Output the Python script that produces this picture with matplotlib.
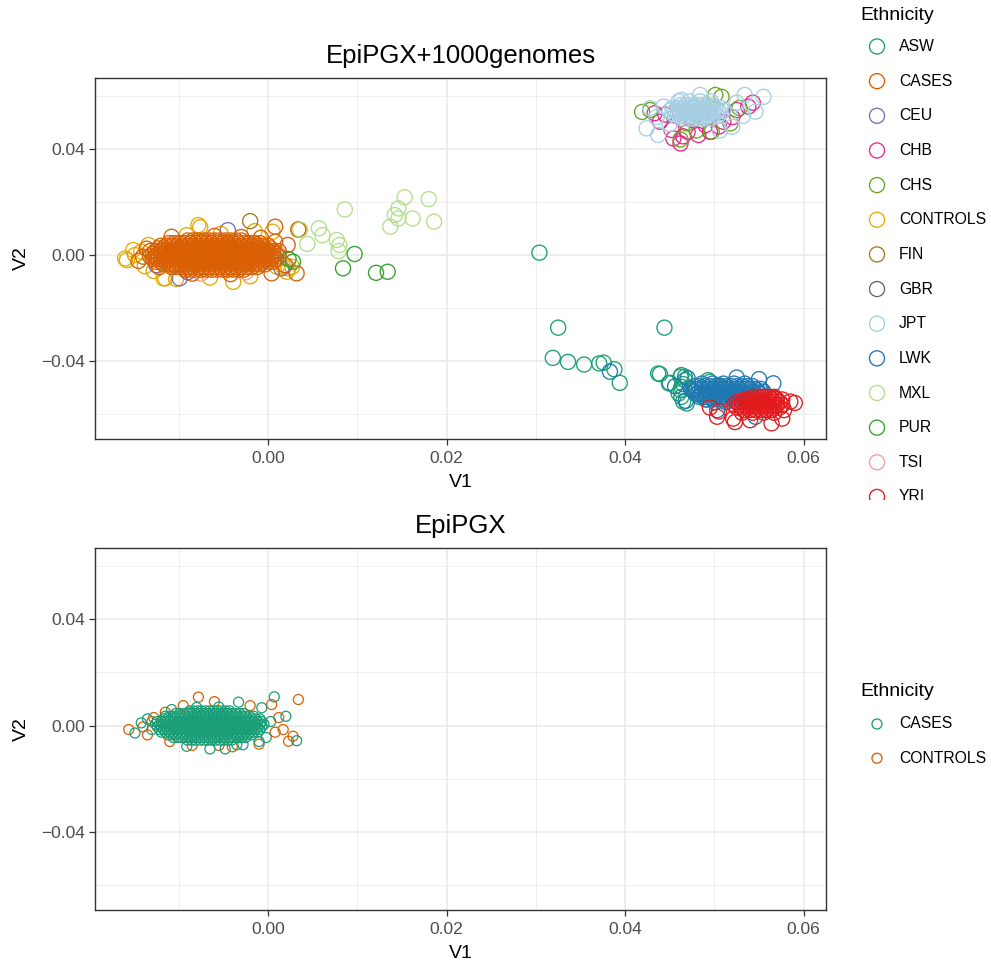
import matplotlib
matplotlib.use("Agg")
import matplotlib.pyplot as plt

plt.rcParams["font.family"] = ["Liberation Sans", "DejaVu Sans"]

SCALE = 1e-3  # all PC coordinates below are in units of 1e-3

# ---------------- EpiPGX + 1000 genomes (PC1 = V1, PC2 = V2) ----------------
# dense clouds are listed row by row as (V2, [V1, ...])
TOP_CASES_ROWS = [
    (5.5, [-9.0, -8.4, -7.8, -7.2, -6.6, -6.0, -5.4, -4.8, -4.2, -3.6, -3.0]),
    (4.5, [-11.1, -10.5, -9.9, -9.3, -8.7, -8.1, -7.5, -6.9, -6.3, -5.7, -5.1, -4.5,
           -3.9, -3.3, -2.7, -2.1, -1.5, -0.9]),
    (3.5, [-12.0, -11.4, -10.8, -10.2, -9.6, -9.0, -8.4, -7.8, -7.2, -6.6, -6.0, -5.4,
           -4.8, -4.2, -3.6, -3.0, -2.4, -1.8, -1.2, -0.6, 0.0]),
    (2.5, [-12.3, -11.7, -11.1, -10.5, -9.9, -9.3, -8.7, -8.1, -7.5, -6.9, -6.3, -5.7,
           -5.1, -4.5, -3.9, -3.3, -2.7, -2.1, -1.5, -0.9, -0.3, 0.3]),
    (1.5, [-13.2, -12.6, -12.0, -11.4, -10.8, -10.2, -9.6, -9.0, -8.4, -7.8, -7.2, -6.6,
           -6.0, -5.4, -4.8, -4.2, -3.6, -3.0, -2.4, -1.8, -1.2, -0.6, 0.0, 0.6, 1.2]),
    (0.5, [-12.9, -12.3, -11.7, -11.1, -10.5, -9.9, -9.3, -8.7, -8.1, -7.5, -6.9, -6.3,
           -5.7, -5.1, -4.5, -3.9, -3.3, -2.7, -2.1, -1.5, -0.9, -0.3, 0.3, 0.9]),
    (-0.5, [-13.2, -12.6, -12.0, -11.4, -10.8, -10.2, -9.6, -9.0, -8.4, -7.8, -7.2, -6.6,
            -6.0, -5.4, -4.8, -4.2, -3.6, -3.0, -2.4, -1.8, -1.2, -0.6, 0.0, 0.6, 1.2]),
    (-1.5, [-12.9, -12.3, -11.7, -11.1, -10.5, -9.9, -9.3, -8.7, -8.1, -7.5, -6.9, -6.3,
            -5.7, -5.1, -4.5, -3.9, -3.3, -2.7, -2.1, -1.5, -0.9, -0.3, 0.3, 0.9]),
    (-2.5, [-12.6, -12.0, -11.4, -10.8, -10.2, -9.6, -9.0, -8.4, -7.8, -7.2, -6.6, -6.0,
            -5.4, -4.8, -4.2, -3.6, -3.0, -2.4, -1.8, -1.2, -0.6, 0.0, 0.6]),
    (-3.5, [-11.7, -11.1, -10.5, -9.9, -9.3, -8.7, -8.1, -7.5, -6.9, -6.3, -5.7, -5.1,
            -4.5, -3.9, -3.3, -2.7, -2.1, -1.5, -0.9, -0.3]),
    (-4.5, [-10.8, -10.2, -9.6, -9.0, -8.4, -7.8, -7.2, -6.6, -6.0, -5.4, -4.8, -4.2,
            -3.6, -3.0, -2.4, -1.8, -1.2]),
    (-5.5, [-9.3, -8.7, -8.1, -7.5, -6.9, -6.3, -5.7, -5.1, -4.5, -3.9, -3.3, -2.7]),
]
TOP_CASES_V1 = [-14.5, -14.0, -10.8, 0.8, 2.2, 3.2, 0.4, 0.8, 1.9, -13.6, -12.2,
                -6.0, -3.0, 3.4, -8.5, -4.2, -0.8]
TOP_CASES_V2 = [-2.2, -0.6, 6.9, 10.7, 3.8, -6.9, -6.9, 5.0, -3.8, 2.4, -4.6,
                7.2, 6.8, 9.7, -7.0, -7.2, 6.5]

TOP_CONTROLS_V1 = [-15.8, -14.9, -14.2, -11.7, -7.8, -9.1, -13.4, -11.5, -3.9, -16.0,
                   -15.1, 1.0, 2.7, 2.1, 0.5, 1.7, 2.3, 3.4, -7.6, -12.8, -10.3,
                   -6.5, -2.0, -5.3, -1.5, -13.8, -8.0, -5.0]
TOP_CONTROLS_V2 = [-1.9, 0.0, 1.3, -8.8, 11.3, 7.5, 3.8, -8.8, -10.1, -1.3,
                   1.9, -4.4, -4.4, -6.3, 8.8, -4.4, -5.0, 9.5, 10.5, -6.0, -9.0,
                   -8.5, -8.0, 8.0, 9.0, -4.2, 0.0, 2.0]

TOP_CEU_V1 = [1.5, -12.5, -9.9, -4.5, -9.0, -2.5, -6.0]
TOP_CEU_V2 = [-5.0, -3.8, -8.8, 9.4, -6.5, -3.0, 1.0]
TOP_FIN_V1 = [-2.0, -5.0, -8.0, 0.5]
TOP_FIN_V2 = [12.8, 0.5, -1.0, 1.5]
TOP_GBR_V1 = [-7.0, -4.0, -10.0, -1.0]
TOP_GBR_V2 = [0.5, -1.0, 2.0, 2.5]
TOP_TSI_V1 = [0.8, -0.3, -7.5, 1.2, -2.5]
TOP_TSI_V2 = [-1.9, -0.6, -7.0, 0.5, -6.5]

TOP_MXL_V1 = [8.6, 5.7, 6.1, 4.4, 7.7, 8.0, 7.9, 15.3, 18.0, 14.6, 14.2, 14.6, 16.2,
              13.7, 18.6, 3.6]
TOP_MXL_V2 = [17.2, 10.1, 7.5, 4.2, 5.7, 3.8, 1.5, 21.8, 21.1, 17.6, 15.1, 13.8, 13.8,
              10.7, 12.6, 9.6]
TOP_PUR_V1 = [8.4, 9.7, 12.1, 13.4, 2.8, 2.3]
TOP_PUR_V2 = [-5.0, 0.4, -6.7, -6.3, -2.5, -1.5]

TOP_ASW_V1 = [30.4, 32.5, 44.4, 31.9, 33.6, 35.4, 37.1, 37.6, 38.8, 39.4, 43.7, 43.9,
              44.9, 46.2, 46.7, 46.3, 46.0, 46.5, 48.4, 50.6, 49.5, 46.5, 45.0, 46.3,
              46.7, 46.2, 46.3, 46.9, 48.2, 50.5, 49.3, 47.5, 49.0, 51.5]
TOP_ASW_V2 = [0.9, -27.4, -27.4, -38.8, -40.3, -41.3, -40.9, -40.6, -43.1, -48.2, -44.7,
              -44.9, -48.4, -45.9, -45.9, -49.7, -52.2, -55.3, -52.8, -49.7, -47.8, -48.7,
              -48.2, -45.3, -47.2, -50.9, -53.5, -56.0, -52.2, -49.1, -47.2, -51.0, -54.5,
              -50.5]

TOP_LWK_ROWS = [
    (-48.5, [48.6, 49.8, 51.0, 52.2, 53.4]),
    (-49.5, [47.7, 48.3, 48.9, 49.5, 50.1, 50.7, 51.3, 51.9, 52.5, 53.1, 53.7, 54.3]),
    (-50.5, [47.4, 48.0, 48.6, 49.2, 49.8, 50.4, 51.0, 51.6, 52.2, 52.8, 53.4, 54.0,
             54.6, 55.2]),
    (-51.5, [47.7, 48.3, 48.9, 49.5, 50.1, 50.7, 51.3, 51.9, 52.5, 53.1, 53.7, 54.3,
             54.9, 55.5]),
    (-52.5, [48.0, 48.6, 49.2, 49.8, 50.4, 51.0, 51.6, 52.2, 52.8, 53.4, 54.0, 54.6,
             55.2]),
    (-53.5, [48.3, 48.9, 49.5, 50.1, 50.7, 51.3, 51.9, 52.5, 53.1, 53.7, 54.3, 54.9]),
    (-54.5, [49.2, 49.8, 50.4, 51.0, 51.6, 52.2, 52.8, 53.4, 54.0]),
    (-55.5, [50.1, 51.3, 52.5, 53.7]),
]
TOP_LWK_V1 = [38.3, 56.6, 54.6, 55.5, 46.8, 45.6, 52.5, 50.3, 47.0, 55.0]
TOP_LWK_V2 = [-44.0, -48.4, -61.0, -55.3, -55.0, -49.5, -46.2, -58.5, -46.5, -46.8]

TOP_YRI_ROWS = [
    (-53.5, [54.3, 54.9, 55.5, 56.1, 56.7]),
    (-54.5, [53.4, 54.0, 54.6, 55.2, 55.8, 56.4, 57.0, 57.6]),
    (-55.5, [52.5, 53.1, 53.7, 54.3, 54.9, 55.5, 56.1, 56.7, 57.3]),
    (-56.5, [52.2, 52.8, 53.4, 54.0, 54.6, 55.2, 55.8, 56.4, 57.0, 57.6]),
    (-57.5, [52.5, 53.1, 53.7, 54.3, 54.9, 55.5, 56.1, 56.7, 57.3]),
    (-58.5, [53.4, 54.0, 54.6, 55.2, 55.8, 56.4]),
    (-59.5, [53.1, 54.3, 55.5, 56.7]),
]
TOP_YRI_V1 = [58.5, 56.7, 50.3, 52.1, 56.4, 57.6, 52.3, 54.0, 59.0, 49.5, 50.5, 57.8]
TOP_YRI_V2 = [-55.3, -54.1, -61.0, -61.7, -63.5, -61.7, -63.0, -62.3, -55.8, -57.5,
              -59.0, -58.5]

TOP_CHB_V1 = [45.4, 46.2, 45.2, 48.2, 49.5, 52.5, 53.8, 43.9, 51.0, 47.0, 50.5, 44.5,
              52.0, 46.5, 54.3, 49.0, 47.5, 43.3]
TOP_CHB_V2 = [44.0, 42.1, 47.2, 45.3, 46.5, 54.7, 56.0, 50.3, 50.3, 46.5, 48.5, 53.0,
              52.0, 44.8, 57.5, 49.0, 51.0, 53.5]
TOP_CHS_V1 = [42.8, 50.1, 50.8, 46.2, 49.7, 51.8, 46.9, 41.9, 52.8, 48.0]
TOP_CHS_V2 = [54.7, 60.4, 59.7, 43.6, 46.5, 49.7, 49.7, 54.0, 55.5, 47.0]

TOP_JPT_ROWS = [
    (58.0, [46.0, 47.2, 48.4, 49.6]),
    (56.5, [46.2, 46.8, 47.4, 48.0, 48.6, 49.2, 49.8]),
    (55.5, [45.3, 45.9, 46.5, 47.1, 47.7, 48.3, 48.9, 49.5, 50.1, 50.7]),
    (54.5, [45.0, 45.6, 46.2, 46.8, 47.4, 48.0, 48.6, 49.2, 49.8, 50.4, 51.0]),
    (53.5, [45.3, 45.9, 46.5, 47.1, 47.7, 48.3, 48.9, 49.5, 50.1, 50.7]),
    (52.5, [45.6, 46.2, 46.8, 47.4, 48.0, 48.6, 49.2, 49.8, 50.4]),
    (51.5, [46.5, 47.1, 47.7, 48.3, 48.9, 49.5]),
]
TOP_JPT_V1 = [42.4, 43.7, 53.4, 55.5, 54.6, 52.0, 42.8, 44.3, 48.4, 46.3, 52.5, 43.5,
              50.6, 53.2, 45.0]
TOP_JPT_V2 = [47.8, 45.3, 60.4, 59.7, 54.1, 48.4, 55.4, 56.0, 60.4, 58.5, 57.5, 52.0,
              47.0, 52.5, 49.5]

# ---------------- EpiPGX only ----------------
BOT_CASES_ROWS = [
    (5.5, [-8.8, -8.35, -7.9, -7.45, -7.0, -6.55, -6.1, -5.65, -5.2, -4.75, -4.3]),
    (4.5, [-10.35, -9.9, -9.45, -9.0, -8.55, -8.1, -7.65, -7.2, -6.75, -6.3, -5.85,
           -5.4, -4.95, -4.5, -4.05, -3.6, -3.15, -2.7]),
    (3.5, [-11.5, -11.05, -10.6, -10.15, -9.7, -9.25, -8.8, -8.35, -7.9, -7.45, -7.0,
           -6.55, -6.1, -5.65, -5.2, -4.75, -4.3, -3.85, -3.4, -2.95, -2.5, -2.05, -1.6]),
    (2.5, [-11.7, -11.25, -10.8, -10.35, -9.9, -9.45, -9.0, -8.55, -8.1, -7.65, -7.2,
           -6.75, -6.3, -5.85, -5.4, -4.95, -4.5, -4.05, -3.6, -3.15, -2.7, -2.25, -1.8,
           -1.35, -0.9]),
    (1.5, [-12.4, -11.95, -11.5, -11.05, -10.6, -10.15, -9.7, -9.25, -8.8, -8.35, -7.9,
           -7.45, -7.0, -6.55, -6.1, -5.65, -5.2, -4.75, -4.3, -3.85, -3.4, -2.95, -2.5,
           -2.05, -1.6, -1.15, -0.7]),
    (0.5, [-12.6, -12.15, -11.7, -11.25, -10.8, -10.35, -9.9, -9.45, -9.0, -8.55, -8.1,
           -7.65, -7.2, -6.75, -6.3, -5.85, -5.4, -4.95, -4.5, -4.05, -3.6, -3.15, -2.7,
           -2.25, -1.8, -1.35, -0.9, -0.45]),
    (-0.5, [-12.4, -11.95, -11.5, -11.05, -10.6, -10.15, -9.7, -9.25, -8.8, -8.35, -7.9,
            -7.45, -7.0, -6.55, -6.1, -5.65, -5.2, -4.75, -4.3, -3.85, -3.4, -2.95, -2.5,
            -2.05, -1.6, -1.15, -0.7]),
    (-1.5, [-12.15, -11.7, -11.25, -10.8, -10.35, -9.9, -9.45, -9.0, -8.55, -8.1, -7.65,
            -7.2, -6.75, -6.3, -5.85, -5.4, -4.95, -4.5, -4.05, -3.6, -3.15, -2.7, -2.25,
            -1.8, -1.35, -0.9]),
    (-2.5, [-11.95, -11.5, -11.05, -10.6, -10.15, -9.7, -9.25, -8.8, -8.35, -7.9, -7.45,
            -7.0, -6.55, -6.1, -5.65, -5.2, -4.75, -4.3, -3.85, -3.4, -2.95, -2.5, -2.05,
            -1.6, -1.15]),
    (-3.5, [-11.25, -10.8, -10.35, -9.9, -9.45, -9.0, -8.55, -8.1, -7.65, -7.2, -6.75,
            -6.3, -5.85, -5.4, -4.95, -4.5, -4.05, -3.6, -3.15, -2.7, -2.25, -1.8]),
    (-4.5, [-10.6, -10.15, -9.7, -9.25, -8.8, -8.35, -7.9, -7.45, -7.0, -6.55, -6.1,
            -5.65, -5.2, -4.75, -4.3, -3.85, -3.4, -2.95, -2.5]),
    (-5.5, [-9.0, -8.55, -8.1, -7.65, -7.2, -6.75, -6.3, -5.85, -5.4, -4.95, -4.5, -4.05]),
]
BOT_CASES_V1 = [0.7, 2.0, 3.2, -14.9, -14.2, -0.7, -3.3, -6.5, -4.8, -3.5, -2.8, -9.1,
                -10.8, -13.5, -13.0, -0.2, 0.3, -1.0, -8.0, -5.5]
BOT_CASES_V2 = [10.8, 3.5, -5.7, -2.8, 1.0, 6.7, 8.8, -8.8, -8.8, -7.2, -7.2, -7.8,
                6.0, 2.5, -1.5, -4.5, 1.5, -6.0, 6.8, 7.0]
BOT_CONTROLS_V1 = [-15.6, -7.8, 3.4, 2.3, 1.7, 0.4, 2.8, -14.0, -13.5, -12.8, -11.0,
                   -9.5, -8.5, -6.0, -4.0, -2.0, -1.0, 0.8, 1.2, -13.0, -11.5, -5.5, -7.0]
BOT_CONTROLS_V2 = [-1.5, 10.7, 9.8, -5.9, -1.5, 7.9, -4.0, -0.5, -3.5, 3.0, -6.0,
                   7.5, -7.5, 9.0, -8.0, 7.5, -7.0, -2.5, 3.0, 1.5, 5.0, -7.5, 0.0]

TOP_LEVELS = ["ASW", "CASES", "CEU", "CHB", "CHS", "CONTROLS", "FIN", "GBR", "JPT",
              "LWK", "MXL", "PUR", "TSI", "YRI"]
TOP_COLORS = ["#1B9E77", "#D95F02", "#7570B3", "#E7298A", "#66A61E", "#E6AB02",
              "#A6761D", "#666666", "#A6CEE3", "#1F78B4", "#B2DF8A", "#33A02C",
              "#FB9A99", "#E31A1C"]
BOT_LEVELS = ["CASES", "CONTROLS"]
BOT_COLORS = ["#1B9E77", "#D95F02"]

TOP_SIZE, BOT_SIZE = 118, 52


def flatten(rows, v1, v2):
    xs, ys = [], []
    for y, row in rows:
        xs += row
        ys += [y] * len(row)
    xs += v1
    ys += v2
    return [x * SCALE for x in xs], [y * SCALE for y in ys]


def style_panel(ax, title):
    ax.set_xlim(-0.01938, 0.0625)
    ax.set_ylim(-0.0694, 0.0668)
    ax.set_xticks([0.0, 0.02, 0.04, 0.06])
    ax.set_xticklabels(["0.00", "0.02", "0.04", "0.06"])
    ax.set_yticks([-0.04, 0.0, 0.04])
    ax.set_yticklabels(["\u22120.04", "0.00", "0.04"])
    ax.set_xticks([-0.01, 0.01, 0.03, 0.05], minor=True)
    ax.set_yticks([-0.06, -0.02, 0.02, 0.06], minor=True)
    ax.grid(which="major", color="#EBEBEB", lw=1.2)
    ax.grid(which="minor", color="#EBEBEB", lw=0.6)
    ax.set_axisbelow(True)
    ax.tick_params(which="major", length=4, width=0.9, color="#333333",
                   labelcolor="#4D4D4D", labelsize=12.5, pad=3.2)
    ax.tick_params(axis="x", which="major", pad=4.5)
    ax.tick_params(which="minor", length=0)
    for sp in ax.spines.values():
        sp.set_color("#333333")
        sp.set_linewidth(1.0)
    ax.set_xlabel("V1", fontsize=14, labelpad=6)
    ax.set_ylabel("V2", fontsize=14, labelpad=8)
    ax.set_title(title, fontsize=18.5, pad=11)


def draw_legend(fig, box, levels, colors, title_y, first_y, step, msize):
    # legend drawn in pixel units inside its own clipped axes
    x0, y0, x1, y1 = box
    W, H = 991, 966
    lax = fig.add_axes([x0 / W, 1 - y1 / H, (x1 - x0) / W, (y1 - y0) / H])
    lax.set_xlim(x0, x1)
    lax.set_ylim(y1, y0)
    lax.axis("off")
    lax.text(860, title_y, "Ethnicity", fontsize=14, va="center", ha="left",
             clip_on=True)
    for i, (lev, col) in enumerate(zip(levels, colors)):
        y = first_y + i * step
        lax.scatter([877], [y], s=msize, facecolors="none", edgecolors=col,
                    linewidths=0.95, clip_on=True)
        lax.text(899, y, lev, fontsize=11.3, va="center", ha="left", clip_on=True)


fig = plt.figure(figsize=(9.91, 9.66), dpi=100)
ax1 = fig.add_axes([95 / 991, 1 - 439 / 966, 731 / 991, 361 / 966])
ax2 = fig.add_axes([95 / 991, 1 - 910 / 966, 731 / 991, 362 / 966])

top_data = {
    "CONTROLS": flatten([], TOP_CONTROLS_V1, TOP_CONTROLS_V2),
    "CEU": flatten([], TOP_CEU_V1, TOP_CEU_V2),
    "FIN": flatten([], TOP_FIN_V1, TOP_FIN_V2),
    "GBR": flatten([], TOP_GBR_V1, TOP_GBR_V2),
    "TSI": flatten([], TOP_TSI_V1, TOP_TSI_V2),
    "CASES": flatten(TOP_CASES_ROWS, TOP_CASES_V1, TOP_CASES_V2),
    "MXL": flatten([], TOP_MXL_V1, TOP_MXL_V2),
    "PUR": flatten([], TOP_PUR_V1, TOP_PUR_V2),
    "ASW": flatten([], TOP_ASW_V1, TOP_ASW_V2),
    "LWK": flatten(TOP_LWK_ROWS, TOP_LWK_V1, TOP_LWK_V2),
    "YRI": flatten(TOP_YRI_ROWS, TOP_YRI_V1, TOP_YRI_V2),
    "CHB": flatten([], TOP_CHB_V1, TOP_CHB_V2),
    "CHS": flatten([], TOP_CHS_V1, TOP_CHS_V2),
    "JPT": flatten(TOP_JPT_ROWS, TOP_JPT_V1, TOP_JPT_V2),
}
top_col = dict(zip(TOP_LEVELS, TOP_COLORS))
for lev, (xs, ys) in top_data.items():
    ax1.scatter(xs, ys, s=TOP_SIZE, facecolors="none", edgecolors=top_col[lev],
                linewidths=0.95)
style_panel(ax1, "EpiPGX+1000genomes")

bot_col = dict(zip(BOT_LEVELS, BOT_COLORS))
bx, by = flatten([], BOT_CONTROLS_V1, BOT_CONTROLS_V2)
ax2.scatter(bx, by, s=BOT_SIZE, facecolors="none", edgecolors=bot_col["CONTROLS"],
            linewidths=0.9)
bx, by = flatten(BOT_CASES_ROWS, BOT_CASES_V1, BOT_CASES_V2)
ax2.scatter(bx, by, s=BOT_SIZE, facecolors="none", edgecolors=bot_col["CASES"],
            linewidths=0.9)
style_panel(ax2, "EpiPGX")

draw_legend(fig, (840, 0, 991, 500), TOP_LEVELS, TOP_COLORS, 15, 46.5, 34.65, TOP_SIZE)
draw_legend(fig, (840, 500, 991, 966), BOT_LEVELS, BOT_COLORS, 691, 724, 34.2, BOT_SIZE)

fig.savefig("out.png", dpi=100)
